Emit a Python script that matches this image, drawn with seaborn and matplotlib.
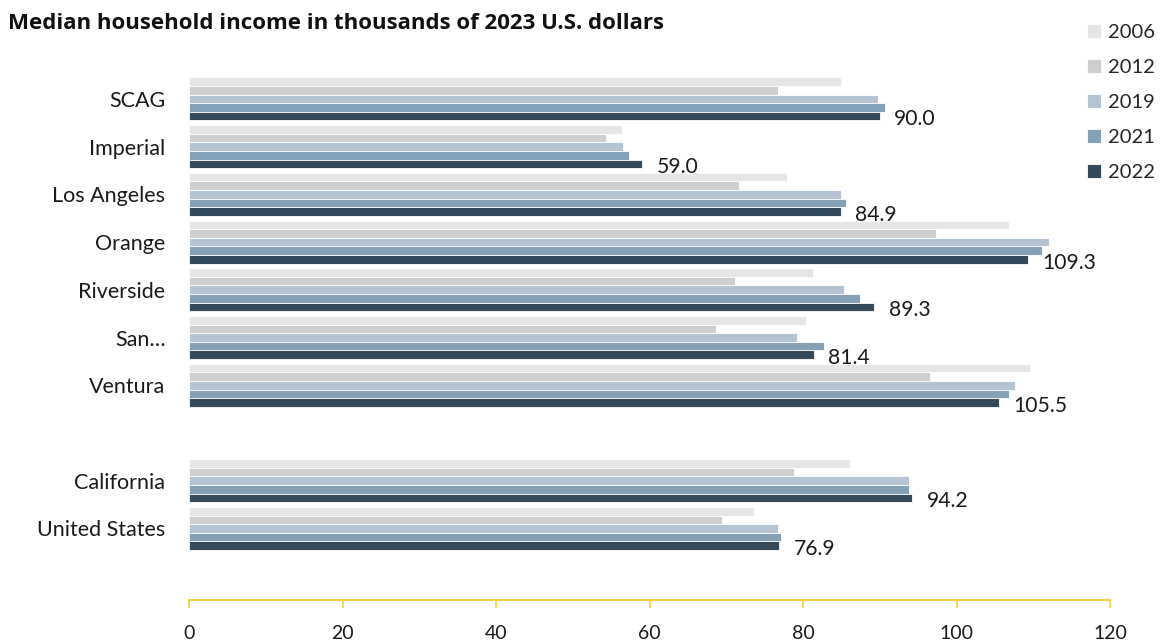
import matplotlib
matplotlib.use("Agg")
import matplotlib.pyplot as plt
import seaborn as sns
import pandas as pd

# Regions (blank entry leaves a gap before the state / national rows)
regions = ["SCAG", "Imperial", "Los Angeles", "Orange", "Riverside", "San…",
           "Ventura", " ", "California", "United States"]
years = ["2006", "2012", "2019", "2021", "2022"]

# Median household income, thousands of 2023 U.S. dollars
inc_2006 = [84.9, 56.4, 77.9, 106.8, 81.3, 80.4, 109.6, None, 86.1, 73.6]
inc_2012 = [76.7, 54.3, 71.6, 97.3, 71.1, 68.6, 96.6, None, 78.8, 69.4]
inc_2019 = [89.8, 56.5, 84.9, 112.0, 85.4, 79.2, 107.6, None, 93.8, 76.7]
inc_2021 = [90.7, 57.3, 85.6, 111.2, 87.4, 82.7, 106.8, None, 93.8, 77.1]
inc_2022 = [90.0, 59.0, 84.9, 109.3, 89.3, 81.4, 105.5, None, 94.2, 76.9]

x_ticks = [0, 20, 40, 60, 80, 100, 120]
colors = ["#e6e6e6", "#cecece", "#afc5d7", "#7ba2c0", "#2e4a5f"]

series = [inc_2006, inc_2012, inc_2019, inc_2021, inc_2022]
rows = []
for yr, vals in zip(years, series):
    for reg, v in zip(regions, vals):
        if v is not None:
            rows.append({"region": reg, "year": yr, "income": v})
df = pd.DataFrame(rows)

sns.set_style("white")
plt.rcParams["font.family"] = ["Lato", "DejaVu Sans"]

fig = plt.figure(figsize=(11.61, 6.44), dpi=100)
ax = fig.add_axes([0.1628, 0.0683, 0.7933, 0.8152])

sns.barplot(data=df, y="region", x="income", hue="year", order=regions,
            hue_order=years, palette=colors, orient="h", width=0.9,
            edgecolor="white", linewidth=0.6, ax=ax, legend=True)

# Value labels for the latest year
last = ax.containers[-1]
for bar, v in zip(last, [v for v in inc_2022 if v is not None]):
    yc = bar.get_y() + bar.get_height() / 2
    ax.text(bar.get_width() + 1.9, yc + 0.07, f"{v:.1f}", ha="left",
            va="center", fontsize=15.2, color="#1a1a1a")

ax.set_xlim(0, 120)
ax.set_ylim(10.5, -0.5)
ax.set_xticks(x_ticks)
ax.set_xticklabels([str(t) for t in x_ticks])
ax.set_xlabel("")
ax.set_ylabel("")

gold = "#f9cf3a"
for s in ["top", "right", "left"]:
    ax.spines[s].set_visible(False)
ax.spines["bottom"].set_color(gold)
ax.spines["bottom"].set_linewidth(1.4)
ax.tick_params(axis="x", bottom=True, colors=gold, length=6, width=1.2,
               direction="out", pad=12, labelcolor="#1a1a1a", labelsize=14)
ax.tick_params(axis="y", left=False, length=0, pad=17, labelsize=15.5,
               labelcolor="#1a1a1a")

handles, labels = ax.get_legend_handles_labels()
ax.get_legend().remove()
fig.legend(handles, labels, loc="upper left", bbox_to_anchor=(0.929, 0.976),
           frameon=False, fontsize=14.5, handlelength=0.7, handleheight=0.7,
           handletextpad=0.35, labelspacing=0.9, borderaxespad=0)

fig.text(0.007, 0.963, "Median household income in thousands of 2023 U.S. dollars",
         fontsize=16, fontweight="bold", family=["Open Sans", "DejaVu Sans"],
         ha="left", va="center", color="#111111")

fig.savefig("out.png", dpi=100)
